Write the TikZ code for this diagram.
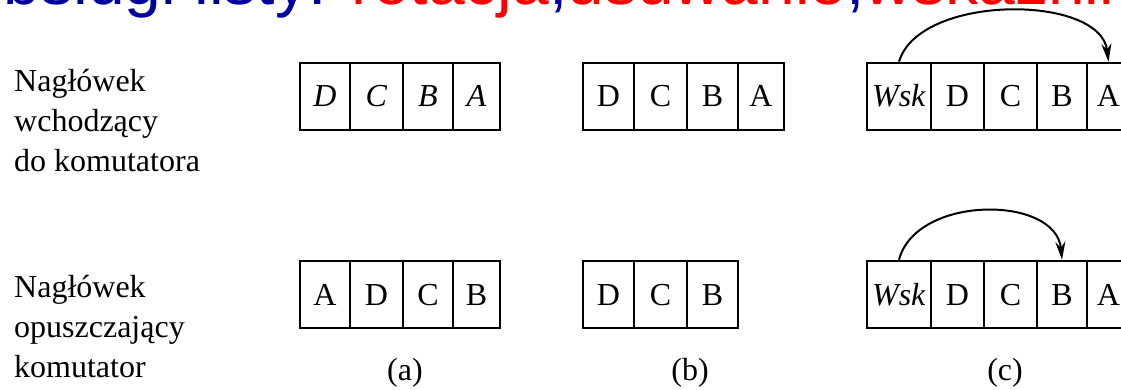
\documentclass[tikz,border=0pt]{standalone}
\usepackage{fontspec}
\setmainfont{Liberation Serif}
\newfontfamily\titlefont{Liberation Sans}
\usetikzlibrary{arrows.meta}
\definecolor{tblue}{RGB}{0,0,160}
\definecolor{tred}{RGB}{255,0,0}
\tikzset{
  cell/.style={draw, line width=2.5pt, minimum height=67pt, inner sep=0pt,
    font=\fontsize{32}{38}\selectfont, text height=21pt, text depth=0pt},
  side/.style={anchor=base west, inner sep=0pt, font=\fontsize{32}{40}\selectfont},
  lbl/.style={anchor=base, inner sep=0pt, font=\fontsize{32}{40}\selectfont},
  ptr/.style={line width=2pt, -{Stealth[length=18pt,width=10pt]}}
}
\begin{document}
\begin{tikzpicture}[x=1pt,y=-1pt]
\useasboundingbox (0,0) rectangle (1121,390);
\clip (0,0) rectangle (1121,390);
% title (cut off in the reference)
\node[anchor=base west, inner sep=0pt, font=\titlefont\fontsize{66}{72}\selectfont] (title) at (-33,5)
  {{\color{tblue}obsługi listy: }{\color{tred}rotacja}{\color{tblue},}{\color{tred}usuwanie}{\color{tblue},}{\color{tred}wskaźnik}};
% side texts
\node[side] (s1) at (14,92) {Nagłówek};
\node[side] (s2) at (14,132) {wchodzący};
\node[side] (s3) at (14,172) {do komutatora};
\node[side] (s4) at (14,297) {Nagłówek};
\node[side] (s5) at (14,337) {opuszczający};
\node[side] (s6) at (14,377) {komutator};
% (a) top
\node[cell, minimum width=50pt] (at1) at (325,96.5) {\textit{D}};
\node[cell, minimum width=53pt] (at2) at (376.5,96.5) {\textit{C}};
\node[cell, minimum width=50pt] (at3) at (428,96.5) {\textit{B}};
\node[cell, minimum width=47pt] (at4) at (476.5,96.5) {\textit{A}};
% (a) bottom
\node[cell, minimum width=50pt] (ab1) at (325,294.5) {A};
\node[cell, minimum width=53pt] (ab2) at (376.5,294.5) {D};
\node[cell, minimum width=50pt] (ab3) at (428,294.5) {C};
\node[cell, minimum width=47pt] (ab4) at (476.5,294.5) {B};
% (b) top
\node[cell, minimum width=51pt] (bt1) at (608.5,96.5) {D};
\node[cell, minimum width=53pt] (bt2) at (660.5,96.5) {C};
\node[cell, minimum width=51pt] (bt3) at (712.5,96.5) {B};
\node[cell, minimum width=46pt] (bt4) at (761,96.5) {A};
% (b) bottom
\node[cell, minimum width=51pt] (bb1) at (608.5,294.5) {D};
\node[cell, minimum width=53pt] (bb2) at (660.5,294.5) {C};
\node[cell, minimum width=51pt] (bb3) at (712.5,294.5) {B};
% (c) top
\node[cell, minimum width=64pt] (ct0) at (899,96.5) {\textit{Wsk}};
\node[cell, minimum width=53pt] (ct1) at (957.5,96.5) {D};
\node[cell, minimum width=53pt] (ct2) at (1010.5,96.5) {C};
\node[cell, minimum width=50pt] (ct3) at (1062,96.5) {B};
\node[cell, minimum width=43pt] (ct4) at (1108.5,96.5) {A};
% (c) bottom
\node[cell, minimum width=64pt] (cb0) at (899,294.5) {\textit{Wsk}};
\node[cell, minimum width=53pt] (cb1) at (957.5,294.5) {D};
\node[cell, minimum width=53pt] (cb2) at (1010.5,294.5) {C};
\node[cell, minimum width=50pt] (cb3) at (1062,294.5) {B};
\node[cell, minimum width=43pt] (cb4) at (1108.5,294.5) {A};
% pointers
\draw[ptr] (ct0.north) .. controls +(20,-68) and +(-8,-68) .. (ct4.north);
\draw[ptr] (cb0.north) .. controls +(17,-65) and +(-6,-65) .. (cb3.north);
% labels
\node[lbl] (la) at (405,380) {(a)};
\node[lbl] (lb) at (690,380) {(b)};
\node[lbl] (lc) at (1005,380) {(c)};
\end{tikzpicture}
\end{document}
